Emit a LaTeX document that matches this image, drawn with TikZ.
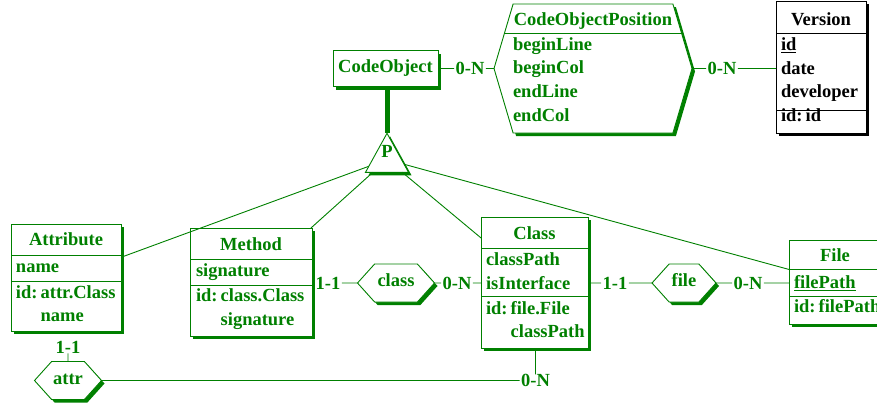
\documentclass[tikz,border=0pt]{standalone}
\usepackage{fontspec}
\setmainfont{Liberation Serif}
\usetikzlibrary{shapes.geometric,shapes.symbols}
\definecolor{ergreen}{RGB}{0,128,0}

\begin{document}
\begin{tikzpicture}[x=1pt, y=-1pt,
  every node/.style={font=\fontsize{18.5}{23.6}\selectfont\bfseries, text=ergreen, inner sep=0pt, outer sep=0pt},
  ershadow/.style={preaction={fill=#1, transform canvas={shift={(3pt,-3pt)}}}},
  ent/.style={draw=#1, fill=white, line width=0.9pt, anchor=north west, ershadow=#1},
  ent/.default=ergreen,
  rel/.style={signal, signal to=west and east, signal pointer angle=96, draw=ergreen, fill=white, line width=0.9pt, minimum height=38pt, text height=12pt, text depth=5pt, ershadow=ergreen},
  isa/.style={isosceles triangle, isosceles triangle stretches, shape border rotate=90, minimum width=43pt, minimum height=39pt, draw=ergreen, fill=white, line width=0.9pt, ershadow=ergreen},
  card/.style={inner xsep=1.5pt, text height=12.5pt, text depth=0pt},
  conn/.style={draw=ergreen, line width=0.9pt},
  divider/.style={draw=#1, line width=0.9pt},
  divider/.default=ergreen]
\useasboundingbox (0,0) rectangle (877,405);
\clip (0,0) rectangle (877,405);

% supertype and its position
\node[ent, anchor=center, minimum width=105pt, minimum height=36pt] (codeobj) at (385.5,68.5) {CodeObject};
\node[rel, signal pointer angle=147, minimum width=198pt, minimum height=129pt] (cop) at (593,68.5) {};
\node[anchor=base] (cop-h) at (593,25) {CodeObjectPosition};
\draw[divider] (504.5,33) -- (681.5,33);
\node[anchor=base west, align=left] (cop-a) at (513,121) {beginLine\\beginCol\\endLine\\endCol};

% Version
\node[ent=black, minimum width=90pt, minimum height=132pt] (version) at (776,1) {};
\node[anchor=base, text=black] (version-h) at (821,25) {Version};
\draw[divider=black] (776,33) -- (866,33);
\draw[divider=black] (776,110.5) -- (866,110.5);
\node[anchor=base west, align=left, text=black] (version-a) at (781,97.7) {\underline{id}\\date\\developer};
\node[anchor=base west, text=black] (version-i) at (781,121.7) {id:\,id};

% subtypes
\node[ent, minimum width=110pt, minimum height=107pt] (attribute) at (11,224) {};
\node[anchor=base] (attribute-h) at (66,245.7) {Attribute};
\draw[divider] (11,255) -- (121,255);
\draw[divider] (11,281) -- (121,281);
\node[anchor=base west] (attribute-a) at (16,272.7) {name};
\node[anchor=base west, align=left] (attribute-i) at (16,321.7) {id:\,attr.Class\\\phantom{id:\,}name};

\node[ent, minimum width=122pt, minimum height=108pt] (method) at (190,228) {};
\node[anchor=base] (method-h) at (251,250) {Method};
\draw[divider] (190,259) -- (312,259);
\draw[divider] (190,285) -- (312,285);
\node[anchor=base west] (method-a) at (196,276.7) {signature};
\node[anchor=base west, align=left] (method-i) at (196,325) {id:\,class.Class\\\phantom{id:\,}signature};

\node[ent, minimum width=107pt, minimum height=131pt] (cls) at (481,217) {};
\node[anchor=base] (cls-h) at (534.5,239) {Class};
\draw[divider] (481,248) -- (588,248);
\draw[divider] (481,296) -- (588,296);
\node[anchor=base west, align=left] (cls-a) at (486,289) {classPath\\isInterface};
\node[anchor=base west, align=left] (cls-i) at (486,337.7) {id:\,file.File\\\phantom{id:\,}classPath};

\node[ent, minimum width=92pt, minimum height=84pt] (file) at (789,240) {};
\node[anchor=base] (file-h) at (835,261.7) {File};
\draw[divider] (789,269) -- (881,269);
\draw[divider] (789,296) -- (881,296);
\node[anchor=base west] (file-a) at (794,288.3) {\underline{filePath}};
\node[anchor=base west] (file-i) at (794,312.7) {id:\,filePath};

% relationships
\node[rel, minimum width=77pt] (clsrel) at (396,283) {class};
\node[rel, minimum width=64pt] (filerel) at (684,283) {file};
\node[rel, minimum width=67pt] (attrrel) at (68,380.5) {attr};

% cardinalities
\node[card] (c-co) at (470,68.5) {0-N};
\node[card] (c-cop) at (722,68.5) {0-N};
\node[card] (c-meth) at (328,283) {1-1};
\node[card] (c-cls1) at (457,283) {0-N};
\node[card] (c-cls2) at (615,283) {1-1};
\node[card] (c-file) at (748,283) {0-N};
\node[card] (c-attr) at (68,347) {1-1};
\node[card] (c-clsb) at (535.5,380.5) {0-N};

\draw[conn] (codeobj) -- (c-co) -- (cop);
\draw[conn] (cop) -- (c-cop) -- (c-cop -| version.west);
\draw[conn] (method.east |- clsrel) -- (c-meth) -- (clsrel) -- (c-cls1) -- (cls.west |- clsrel);
\draw[conn] (cls.east |- filerel) -- (c-cls2) -- (filerel) -- (c-file) -- (file.west |- filerel);
\draw[conn] (attrrel) -- (c-attr);
\draw[conn] (attrrel) -- (c-clsb) -- (c-clsb |- cls.south);

% is-a
\node[isa, anchor=apex] (isa) at (387,133.3) {};
\node[anchor=base] (isa-p) at (387,157) {P};
\draw[conn, line width=5pt] (isa.apex |- codeobj.south) -- (isa.apex);
\draw[conn] (isa) -- (attribute);
\draw[conn] (isa) -- (method);
\draw[conn] (isa) -- (cls);
\draw[conn] (isa) -- (file);
\end{tikzpicture}
\end{document}
